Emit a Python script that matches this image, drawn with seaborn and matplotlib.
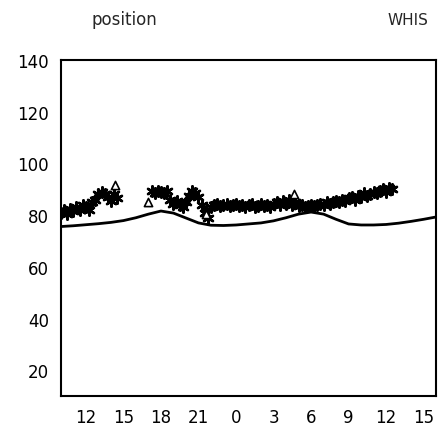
import numpy as np
import pandas as pd
import matplotlib
matplotlib.use("Agg")
import matplotlib.pyplot as plt
import seaborn as sns

# ---- data (hours counted continuously from day 1; 24 = midnight) ----
line_hours = [10, 11, 12, 13, 14, 15, 16, 17, 18, 19, 20, 21, 22, 23, 24, 25, 26,
              27, 28, 29, 30, 31, 32, 33, 34, 35, 36, 37, 38, 39, 40]
line_values = [75.6, 75.9, 76.3, 76.7, 77.2, 77.9, 79.0, 80.4, 81.6, 80.8, 78.9,
               77.0, 76.1, 76.0, 76.2, 76.6, 77.0, 77.8, 79.0, 80.4, 81.2, 80.4,
               78.4, 76.6, 76.2, 76.2, 76.4, 76.9, 77.6, 78.4, 79.3]

star_hours = [10.0, 10.25, 10.5, 10.75, 11.0, 11.25, 11.5, 11.75, 12.0, 12.25,
              12.5, 12.75, 13.0, 13.25, 13.5, 13.75, 14.0, 14.25, 14.5,
              17.25, 17.5, 17.75, 18.0, 18.25, 18.5, 18.75, 19.0, 19.25, 19.5,
              19.75, 20.0, 20.25, 20.5, 20.75, 21.0, 21.25, 21.5, 21.75,
              22.0, 22.25, 22.5, 22.75, 23.0, 23.25, 23.5, 23.75, 24.0, 24.25,
              24.5, 24.75, 25.0, 25.25, 25.5, 25.75, 26.0, 26.25, 26.5, 26.75,
              27.0, 27.25, 27.5, 27.75, 28.0, 28.25, 28.5, 28.75, 29.0, 29.25,
              29.5, 29.75, 30.0, 30.25, 30.5, 30.75, 31.0, 31.25, 31.5, 31.75,
              32.0, 32.25, 32.5, 32.75, 33.0, 33.25, 33.5, 33.75, 34.0, 34.25,
              34.5, 34.75, 35.0, 35.25, 35.5, 35.75, 36.0, 36.25, 36.5]
star_values = [81.0, 82.0, 80.5, 82.5, 81.5, 83.0, 82.0, 84.0, 83.0, 82.0,
               85.0, 86.0, 88.0, 89.0, 88.0, 87.0, 85.5, 88.0, 86.5,
               89.5, 88.5, 89.5, 89.0, 88.5, 89.5, 86.0, 84.5, 85.5, 84.0,
               83.0, 85.0, 87.5, 89.5, 88.5, 87.0, 84.0, 81.0, 79.0,
               83.0, 84.0, 84.5, 83.5, 84.0, 84.5, 83.5, 84.0, 84.5, 83.5,
               84.0, 83.0, 84.0, 84.5, 83.0, 83.5, 84.5, 83.5, 84.0, 83.0,
               84.5, 85.0, 84.0, 85.5, 84.5, 86.0, 84.0, 85.0, 83.5, 84.0,
               83.0, 83.5, 84.0, 83.5, 84.0, 84.5, 84.0, 85.0, 84.5, 85.0,
               85.5, 85.0, 86.0, 85.5, 86.5, 87.0, 86.0, 87.5, 87.0, 88.5,
               87.5, 88.0, 89.0, 88.5, 89.5, 90.0, 89.0, 90.5, 90.0]

tri_hours = [14.3, 17.0, 21.6, 28.6]
tri_values = [91.5, 85.0, 80.5, 88.0]

x_ticks = [12, 15, 18, 21, 24, 27, 30, 33, 36, 39]
x_tick_labels = ["12", "15", "18", "21", "0", "3", "6", "9", "12", "15"]
y_ticks = [20, 40, 60, 80, 100, 120, 140]

sns.set_style("white")
plt.rcParams['font.family'] = ['DejaVu Sans']

fig = plt.figure(figsize=(4.41, 4.27), dpi=100)
ax = fig.add_axes([0.138, 0.070, 0.851, 0.787])

line_df = pd.DataFrame({"hour": line_hours, "value": line_values})
star_df = pd.DataFrame({"hour": star_hours, "value": star_values})
tri_df = pd.DataFrame({"hour": tri_hours, "value": tri_values})

sns.lineplot(data=line_df, x="hour", y="value", ax=ax, color="black",
             linewidth=2.0)
sns.scatterplot(data=star_df, x="hour", y="value", ax=ax, color="black",
                marker=(6, 2, 0), s=55, linewidth=1.8, edgecolor="black")
sns.scatterplot(data=tri_df, x="hour", y="value", ax=ax, marker="^",
                s=35, facecolor="white", edgecolor="black", linewidth=1.2)

ax.set_xlim(10, 40)
ax.set_ylim(10, 140)
ax.set_xticks(x_ticks)
ax.set_xticklabels(x_tick_labels)
ax.set_yticks(y_ticks)
ax.set_xlabel("")
ax.set_ylabel("")
ax.tick_params(axis="both", direction="inout", length=5, width=1.0,
               labelsize=12, colors="black", pad=6)
for sp in ax.spines.values():
    sp.set_visible(True)
    sp.set_color("black")
    sp.set_linewidth(1.5)

fig.text(0.282, 0.953, "position", fontsize=12, ha="center", va="center")
fig.text(0.925, 0.953, "WHIS", fontsize=11, ha="center", va="center")

fig.savefig("out.png", dpi=100)
